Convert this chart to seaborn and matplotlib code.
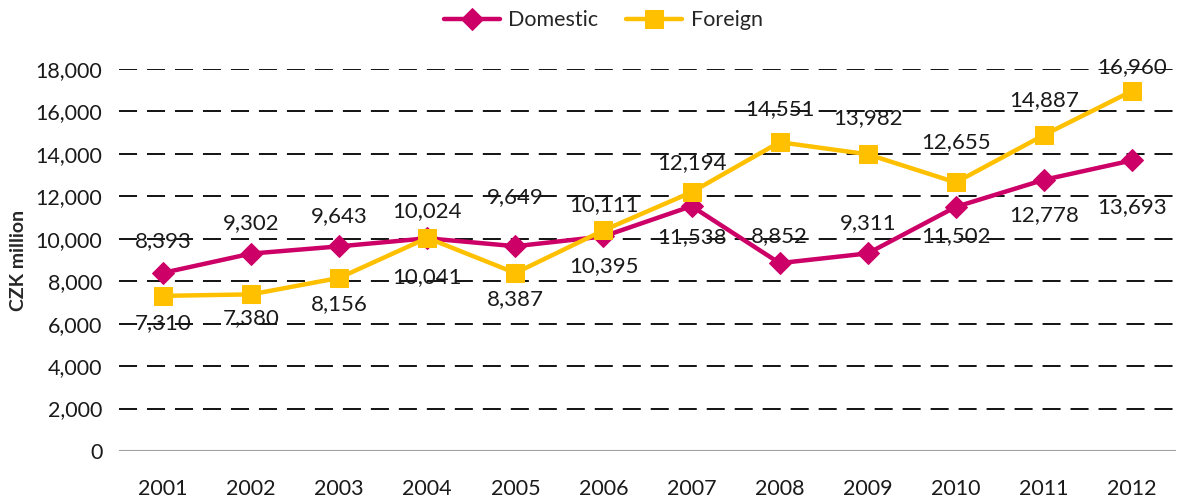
import pandas as pd
import numpy as np
import matplotlib
matplotlib.use("Agg")
import matplotlib.pyplot as plt
import seaborn as sns

years = [2001, 2002, 2003, 2004, 2005, 2006, 2007, 2008, 2009, 2010, 2011, 2012]
domestic = [8393, 9302, 9643, 10024, 9649, 10111, 11538, 8852, 9311, 11502, 12778, 13693]
foreign = [7310, 7380, 8156, 10041, 8387, 10395, 12194, 14551, 13982, 12655, 14887, 16960]
y_ticks = [0, 2000, 4000, 6000, 8000, 10000, 12000, 14000, 16000, 18000]

# label offsets in pixels (negative = above the point)
dom_off = [-32, -30, -30, -27, -49, -31, 31, -27, -30, 29, 35, 47]
for_off = [27, 24, 26, 39, 26, 36, -29, -33, -36, -40, -35, -24]

sns.set_style("white")
plt.rcParams["font.family"] = ["Lato", "DejaVu Sans"]

c_dom = "#CC0066"
c_for = "#FFC000"

df = pd.DataFrame({"x": np.arange(len(years)), "Domestic": domestic, "Foreign": foreign})

fig = plt.figure(figsize=(11.83, 5.03), dpi=100)
ax = fig.add_axes([119 / 1183, 52 / 503, (1176 - 119) / 1183, (451 - 69) / 503])

for y in y_ticks[1:]:
    ax.axhline(y, color="black", lw=1.3, ls=(0, (10, 5.5)), zorder=1)
ax.axhline(0, color="#a0a0a0", lw=1.5, zorder=1)

sns.lineplot(data=df, x="x", y="Domestic", ax=ax, color=c_dom, lw=3.2,
             marker="D", markersize=11, markeredgecolor=c_dom, label="Domestic",
             zorder=3, clip_on=False)
sns.lineplot(data=df, x="x", y="Foreign", ax=ax, color=c_for, lw=3.2,
             marker="s", markersize=13, markeredgecolor=c_for, label="Foreign",
             zorder=4, clip_on=False)

for i in range(len(years)):
    ax.annotate(f"{domestic[i]:,}", (i, domestic[i]), xytext=(0, -dom_off[i] * 0.72),
                textcoords="offset points", ha="center", va="center", fontsize=16,
                color="#1a1a1a", zorder=5)
    ax.annotate(f"{foreign[i]:,}", (i, foreign[i]), xytext=(0, -for_off[i] * 0.72),
                textcoords="offset points", ha="center", va="center", fontsize=16,
                color="#1a1a1a", zorder=5)

ax.set_xlim(-0.5, len(years) - 0.5)
ax.set_ylim(0, 18000)
ax.set_xticks(np.arange(len(years)))
ax.set_xticklabels([str(y) for y in years])
ax.set_yticks(y_ticks)
ax.set_yticklabels([f"{v:,}" for v in y_ticks])
ax.tick_params(axis="both", labelsize=15.5, length=0, colors="#1a1a1a")
ax.tick_params(axis="x", pad=20)
ax.tick_params(axis="y", pad=12)
ax.set_xlabel("")
ax.set_ylabel("CZK million", fontsize=14, fontweight="bold", labelpad=6)
for s in ax.spines.values():
    s.set_visible(False)

ax.get_legend().remove()
h, l = ax.get_legend_handles_labels()
fig.legend(h, l, loc="center", bbox_to_anchor=(0.510, 0.96), ncol=2, frameon=False,
           fontsize=15.5, handlelength=2.6, columnspacing=1.3, handletextpad=0.4)

fig.savefig("out.png", dpi=100)
